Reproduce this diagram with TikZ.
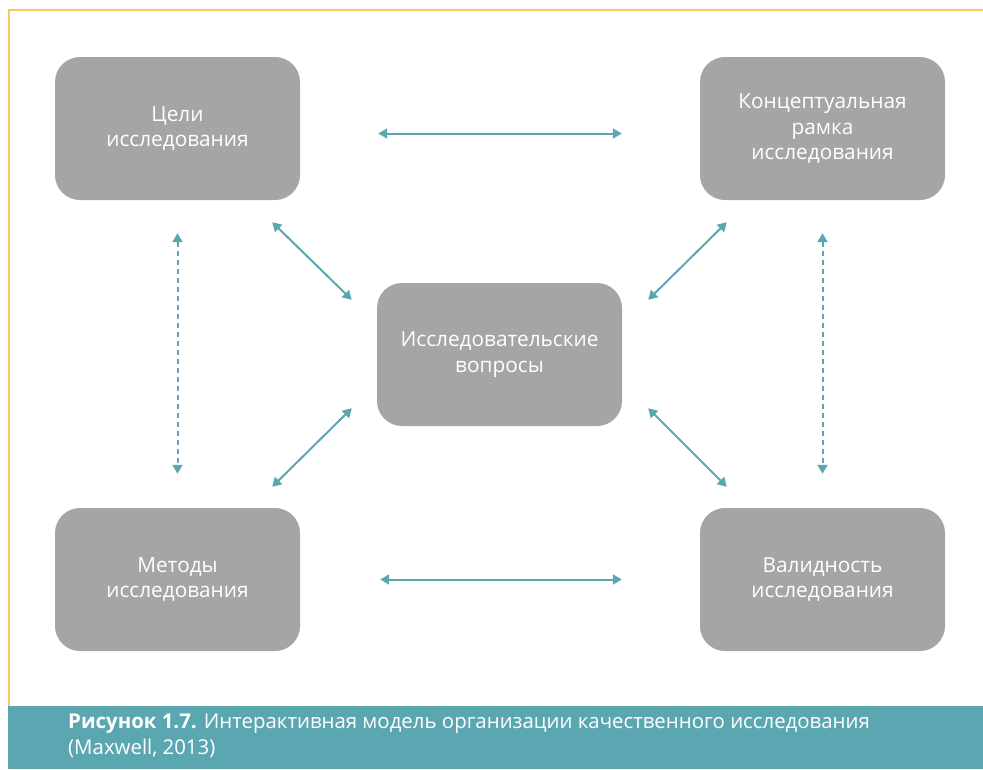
\documentclass[tikz,border=0pt]{standalone}
\usepackage{fontspec}
\setmainfont{Open Sans}
\usetikzlibrary{arrows.meta}
\definecolor{boxgray}{HTML}{A5A5A5}
\definecolor{linkteal}{HTML}{5BA7B1}
\definecolor{frameyellow}{HTML}{F6CB5C}

\begin{document}
\begin{tikzpicture}[x=1pt, y=-1pt,
    block/.style={rectangle, rounded corners=25pt, fill=boxgray, minimum width=245pt, minimum height=143pt,
        text=white, align=center, font=\fontsize{20.8}{25.5}\selectfont},
    link/.style={draw=linkteal, line width=2pt, {Triangle[length=9pt,width=10pt]}-{Triangle[length=9pt,width=10pt]}},
    dlink/.style={link, dash pattern=on 5pt off 4pt}]
        \useasboundingbox (0,0) rectangle (983,769);

        % Frame and caption band
        \draw[frameyellow, line width=2pt] (9,706) -- (9,10) -- (983,10);
        \fill[linkteal] (8,706) rectangle (983,769);
        \node[anchor=base west, text=white, align=left, inner sep=0pt, font=\fontsize{20.4}{26}\selectfont] (cap) at (68,754)
            {\textbf{Рисунок 1.7.} Интерактивная модель организации качественного исследования\\(Maxwell, 2013)};

        % Draw nodes
        \node[block] (goals) at (177.5,128.5) {Цели\\исследования};
        \node[block] (frame) at (822.5,128.5) {Концептуальная\\рамка\\исследования};
        \node[block] (quest) at (499.5,354.5) {Исследовательские\\вопросы};
        \node[block] (meth) at (177.5,579.5) {Методы\\исследования};
        \node[block] (valid) at (822.5,579.5) {Валидность\\исследования};

        % Arrow ends
        \coordinate (g1) at ([shift={(-28,22)}]goals.south east);
        \coordinate (q1) at ([shift={(-25,17)}]quest.north west);
        \coordinate (f1) at ([shift={(27,22)}]frame.south west);
        \coordinate (q2) at ([shift={(26,17)}]quest.north east);
        \coordinate (q3) at ([shift={(-25,-18)}]quest.south west);
        \coordinate (m1) at ([shift={(-28,-21)}]meth.north east);
        \coordinate (q4) at ([shift={(26,-18)}]quest.south east);
        \coordinate (v1) at ([shift={(27,-21)}]valid.north west);

        % Draw connections
        \draw[link, shorten <=78pt, shorten >=78pt] ([yshift=-5pt]goals.east) -- ([yshift=-5pt]frame.west);
        \draw[link, shorten <=80pt, shorten >=78pt] (meth.east) -- (valid.west);
        \draw[dlink, shorten <=33pt, shorten >=34pt] (goals.south) -- (meth.north);
        \draw[dlink, shorten <=33pt, shorten >=34pt] (frame.south) -- (valid.north);
        \draw[link] (g1) -- (q1);
        \draw[link] (f1) -- (q2);
        \draw[link] (q3) -- (m1);
        \draw[link] (q4) -- (v1);
    \end{tikzpicture}
\end{document}
